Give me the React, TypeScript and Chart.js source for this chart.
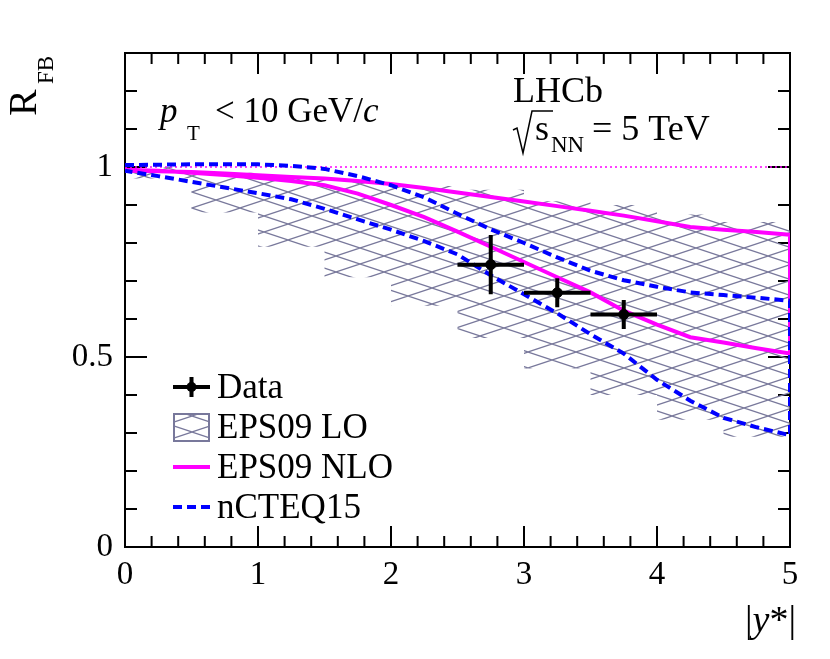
import { useEffect, useRef } from "react";
import { Chart, registerables } from "chart.js";

Chart.register(...registerables);

const SERIF = '"Liberation Serif", "Times New Roman", "DejaVu Serif", serif';

// EPS09 LO band, one box per bin of |y*|
const binEdges = [0, 0.5, 1, 1.5, 2, 2.5, 3, 3.5, 4, 4.5, 5];
const eps09LoUpper = [1.0, 0.985, 0.975, 0.965, 0.95, 0.94, 0.91, 0.9, 0.875, 0.855];
const eps09LoLower = [0.97, 0.88, 0.79, 0.71, 0.635, 0.55, 0.47, 0.4, 0.335, 0.29];

// theory curves (upper / lower edges)
const curveX = [0, 0.25, 0.5, 0.75, 1, 1.25, 1.5, 1.75, 2, 2.25, 2.5, 2.75, 3, 3.25, 3.5, 3.75, 4, 4.25, 4.5, 4.75, 5];
const nloUpper = [0.99, 0.989, 0.987, 0.983, 0.978, 0.974, 0.97, 0.963, 0.955, 0.945, 0.933, 0.921, 0.909, 0.897, 0.885, 0.872, 0.857, 0.842, 0.835, 0.829, 0.822];
const nloLower = [0.993, 0.99, 0.985, 0.979, 0.972, 0.963, 0.952, 0.93, 0.9, 0.868, 0.83, 0.79, 0.75, 0.71, 0.67, 0.622, 0.585, 0.552, 0.538, 0.523, 0.509];
const cteqUpper = [1.005, 1.006, 1.007, 1.007, 1.007, 1.003, 0.995, 0.976, 0.952, 0.92, 0.877, 0.836, 0.8, 0.762, 0.727, 0.702, 0.685, 0.67, 0.663, 0.656, 0.648];
const cteqLower = [0.99, 0.976, 0.961, 0.946, 0.931, 0.915, 0.89, 0.862, 0.835, 0.805, 0.77, 0.715, 0.665, 0.615, 0.56, 0.509, 0.44, 0.385, 0.34, 0.315, 0.294];

// LHCb data
const dataX = [2.75, 3.25, 3.75];
const dataY = [0.743, 0.669, 0.612];
const dataXErr = [0.25, 0.25, 0.25];
const dataYErr = [0.078, 0.038, 0.038];

const refLine = [0, 5];

const HATCH = "rgb(120,120,155)";

function makeHatch(): CanvasPattern | string {
  const tile = document.createElement("canvas");
  tile.width = 48;
  tile.height = 16;
  const c = tile.getContext("2d");
  if (!c) return "transparent";
  c.strokeStyle = HATCH;
  c.lineWidth = 1.2;
  c.beginPath();
  c.moveTo(0, 0);
  c.lineTo(48, 16);
  c.moveTo(0, 16);
  c.lineTo(48, 0);
  c.stroke();
  return c.createPattern(tile, "repeat") ?? "transparent";
}

function envelope(xs: number[], up: number[], lo: number[]) {
  const pts = xs.map((x, i) => ({ x, y: up[i] }));
  for (let i = xs.length - 1; i >= 0; i--) pts.push({ x: xs[i], y: lo[i] });
  return pts;
}

function stepBand() {
  const pts: { x: number; y: number }[] = [];
  eps09LoUpper.forEach((v, i) => {
    pts.push({ x: binEdges[i], y: v }, { x: binEdges[i + 1], y: v });
  });
  for (let i = eps09LoLower.length - 1; i >= 0; i--) {
    pts.push({ x: binEdges[i + 1], y: eps09LoLower[i] }, { x: binEdges[i], y: eps09LoLower[i] });
  }
  return pts;
}

type Seg = [string, string, number];
function run(ctx: CanvasRenderingContext2D, x: number, y: number, segs: Seg[]) {
  let cx = x;
  for (const [t, font, dy] of segs) {
    ctx.font = font;
    ctx.fillText(t, cx, y + dy);
    cx += ctx.measureText(t).width;
  }
  return cx;
}

function makeRootPlugin(hatch: CanvasPattern | string) {
  return {
    id: "rootStyle",
    beforeDatasetsDraw(chart: any) {
      const { ctx, chartArea: a, scales } = chart;
      ctx.save();
      ctx.strokeStyle = "#000";
      ctx.lineWidth = 2;
      ctx.strokeRect(a.left, a.top, a.right - a.left, a.bottom - a.top);
      ctx.beginPath();
      for (const t of scales.x.ticks) {
        const px = scales.x.getPixelForValue(t.value);
        const len = t.label ? 21 : 11;
        ctx.moveTo(px, a.bottom);
        ctx.lineTo(px, a.bottom - len);
        ctx.moveTo(px, a.top);
        ctx.lineTo(px, a.top + len);
      }
      for (const t of scales.y.ticks) {
        const py = scales.y.getPixelForValue(t.value);
        const len = t.label ? 22 : 12;
        ctx.moveTo(a.left, py);
        ctx.lineTo(a.left + len, py);
        ctx.moveTo(a.right, py);
        ctx.lineTo(a.right - len, py);
      }
      ctx.stroke();
      ctx.restore();
    },
    afterDatasetsDraw(chart: any) {
      const { ctx, scales } = chart;
      const { x, y } = scales;
      ctx.save();
      ctx.strokeStyle = "#000";
      ctx.lineWidth = 4;
      ctx.beginPath();
      dataX.forEach((vx, i) => {
        ctx.moveTo(x.getPixelForValue(vx - dataXErr[i]), y.getPixelForValue(dataY[i]));
        ctx.lineTo(x.getPixelForValue(vx + dataXErr[i]), y.getPixelForValue(dataY[i]));
        ctx.moveTo(x.getPixelForValue(vx), y.getPixelForValue(dataY[i] - dataYErr[i]));
        ctx.lineTo(x.getPixelForValue(vx), y.getPixelForValue(dataY[i] + dataYErr[i]));
      });
      ctx.stroke();
      ctx.restore();
    },
    afterDraw(chart: any) {
      const { ctx } = chart;
      ctx.save();
      ctx.fillStyle = "#000";
      ctx.textBaseline = "alphabetic";
      ctx.textAlign = "left";

      // y title R_FB, rotated
      ctx.save();
      ctx.translate(36, 116);
      ctx.rotate(-Math.PI / 2);
      run(ctx, 0, 0, [["R", `40px ${SERIF}`, 0]]);
      ctx.font = `23px ${SERIF}`;
      ctx.fillText("FB", 32, 17);
      ctx.restore();

      // x title |y*|
      const xt: Seg[] = [
        ["|", `38px ${SERIF}`, 0],
        ["y", `italic 38px ${SERIF}`, 0],
        ["*|", `38px ${SERIF}`, 0],
      ];
      let w = 0;
      for (const [t, f] of xt) {
        ctx.font = f;
        w += ctx.measureText(t).width;
      }
      run(ctx, 796 - w, 632, xt);

      // pT label
      ctx.font = `italic 35px ${SERIF}`;
      ctx.fillText("p", 160, 122);
      ctx.font = `21px ${SERIF}`;
      ctx.fillText("T", 187, 140);
      run(ctx, 215, 122, [
        ["< 10 GeV/", `35px ${SERIF}`, 0],
        ["c", `italic 35px ${SERIF}`, 0],
      ]);

      // LHCb and energy
      ctx.font = `36px ${SERIF}`;
      ctx.fillText("LHCb", 513, 102);
      ctx.strokeStyle = "#000";
      ctx.lineWidth = 1.5;
      ctx.beginPath();
      ctx.moveTo(513, 130);
      ctx.lineTo(517, 128);
      ctx.lineTo(523, 153);
      ctx.lineTo(532, 111);
      ctx.lineTo(553, 111);
      ctx.stroke();
      ctx.font = `36px ${SERIF}`;
      ctx.fillText("s", 535, 140);
      ctx.font = `23px ${SERIF}`;
      ctx.fillText("NN", 551, 152);
      ctx.font = `36px ${SERIF}`;
      ctx.fillText("= 5 TeV", 592, 140);

      // legend
      const lx0 = 173;
      const lx1 = 210;
      const rows = [387, 427, 467, 507];
      ctx.lineWidth = 4;
      ctx.strokeStyle = "#000";
      ctx.beginPath();
      ctx.moveTo(lx0, rows[0]);
      ctx.lineTo(lx1, rows[0]);
      ctx.moveTo((lx0 + lx1) / 2, rows[0] - 10);
      ctx.lineTo((lx0 + lx1) / 2, rows[0] + 10);
      ctx.stroke();
      ctx.beginPath();
      ctx.arc((lx0 + lx1) / 2, rows[0], 5, 0, Math.PI * 2);
      ctx.fill();

      ctx.fillStyle = hatch as any;
      ctx.fillRect(lx0 + 1, rows[1] - 13, lx1 - lx0 - 2, 27);
      ctx.strokeStyle = HATCH;
      ctx.lineWidth = 2;
      ctx.strokeRect(lx0 + 1, rows[1] - 13, lx1 - lx0 - 2, 27);

      ctx.strokeStyle = "#ff00ff";
      ctx.lineWidth = 4;
      ctx.beginPath();
      ctx.moveTo(lx0, rows[2]);
      ctx.lineTo(lx1, rows[2]);
      ctx.stroke();

      ctx.strokeStyle = "#0000ff";
      ctx.setLineDash([9, 5]);
      ctx.beginPath();
      ctx.moveTo(lx0, rows[3]);
      ctx.lineTo(lx1, rows[3]);
      ctx.stroke();
      ctx.setLineDash([]);

      ctx.fillStyle = "#000";
      ctx.font = `35px ${SERIF}`;
      const names = ["Data", "EPS09 LO", "EPS09 NLO", "nCTEQ15"];
      names.forEach((n, i) => ctx.fillText(n, 217, rows[i] + 11));
      ctx.restore();
    },
  };
}

export default function App() {
  const canvasRef = useRef<HTMLCanvasElement | null>(null);

  useEffect(() => {
    document.body.style.margin = "0";
    const canvas = canvasRef.current;
    if (!canvas) return;
    const hatch = makeHatch();

    const chart = new Chart(canvas, {
      type: "line",
      data: {
        datasets: [
          {
            label: "Data",
            data: dataX.map((x, i) => ({ x, y: dataY[i] })),
            showLine: false,
            pointRadius: 5,
            pointBackgroundColor: "#000",
            pointBorderColor: "#000",
            borderColor: "#000",
          },
          {
            label: "nCTEQ15",
            data: envelope(curveX, cteqUpper, cteqLower),
            borderColor: "#0000ff",
            borderWidth: 4,
            borderDash: [9, 5],
            pointRadius: 0,
            fill: false,
            tension: 0,
          },
          {
            label: "EPS09 NLO",
            data: envelope(curveX, nloUpper, nloLower),
            borderColor: "#ff00ff",
            borderWidth: 4,
            pointRadius: 0,
            fill: false,
            tension: 0,
          },
          {
            label: "ref",
            data: refLine.map((x) => ({ x, y: 1 })),
            borderColor: "#ff00ff",
            borderWidth: 1.5,
            borderDash: [2, 3],
            pointRadius: 0,
            fill: false,
          },
          {
            label: "EPS09 LO",
            data: stepBand(),
            borderColor: "rgba(0,0,0,0)",
            borderWidth: 1,
            backgroundColor: hatch as any,
            pointRadius: 0,
            fill: "shape",
            tension: 0,
          },
        ],
      },
      options: {
        animation: false,
        responsive: true,
        maintainAspectRatio: false,
        layout: { padding: { top: 53, right: 40, left: 0, bottom: 0 } },
        plugins: {
          legend: { display: false },
          tooltip: { enabled: false },
        },
        scales: {
          x: {
            type: "linear",
            min: 0,
            max: 5,
            border: { display: false },
            grid: { display: false, drawTicks: false },
            ticks: {
              stepSize: 0.2,
              autoSkip: false,
              maxRotation: 0,
              padding: 9,
              color: "#000",
              font: { family: SERIF, size: 33 },
              callback: (v: any) => (Math.abs(v - Math.round(v)) < 1e-6 ? String(Math.round(v)) : ""),
            },
            afterFit: (s: any) => {
              s.height = 112;
            },
          },
          y: {
            type: "linear",
            min: 0,
            max: 1.3,
            border: { display: false },
            grid: { display: false, drawTicks: false },
            ticks: {
              stepSize: 0.1,
              autoSkip: false,
              padding: 12,
              color: "#000",
              font: { family: SERIF, size: 33 },
              callback: (v: any) => {
                const h = Math.round(v * 2);
                return Math.abs(v * 2 - h) < 1e-6 ? String(h / 2) : "";
              },
            },
            afterFit: (s: any) => {
              s.width = 125;
            },
          },
        },
      },
      plugins: [makeRootPlugin(hatch)],
    });

    return () => chart.destroy();
  }, []);

  return (
    <div style={{ position: "relative", width: 830, height: 659 }}>
      <canvas ref={canvasRef} />
    </div>
  );
}
